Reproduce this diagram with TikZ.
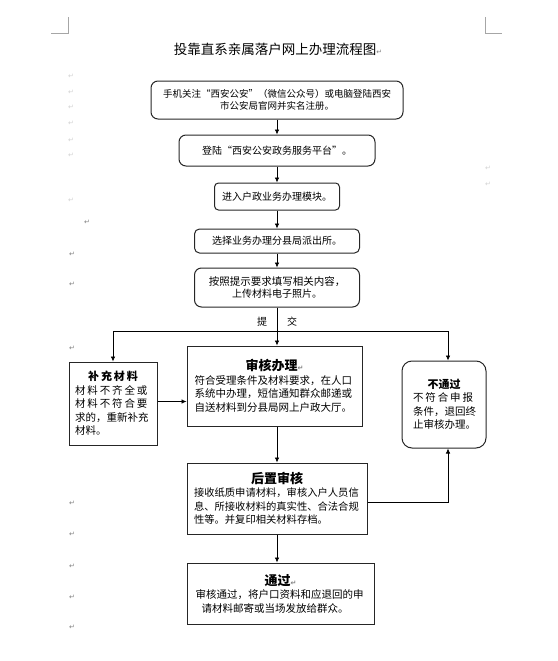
\documentclass[tikz,border=0pt]{standalone}
\usepackage{fontspec}
\setmainfont{Noto Sans CJK SC}
\newfontfamily\cjkspread[LetterSpace=18]{Noto Sans CJK SC}
\newfontfamily\markfont{DejaVu Sans}
\usetikzlibrary{arrows.meta}
\newcommand{\pmark}{{\markfont\color{gray}\fontsize{7}{7}\selectfont ↵}}
\newcommand{\boxtitle}[2]{\makebox[\hsize]{\fontsize{#1}{14}\selectfont\bfseries #2}}
\begin{document}
\begin{tikzpicture}[x=1pt,y=-1pt,
  box/.style={draw=black!85, line width=1pt, inner sep=0pt, align=center,
    font=\fontsize{10}{12}\selectfont},
  rbox/.style={box, rounded corners=7pt},
  tbox/.style={box, align=left, font=\fontsize{10.5}{13.5}\selectfont},
  arr/.style={-{Latex[length=5pt,width=4.5pt]}, line width=0.7pt},
  pm/.style={font=\markfont\fontsize{7}{7}\selectfont, text=gray, inner sep=0pt}]
\useasboundingbox (0,0) rectangle (557,661);

% Word page corners
\draw[gray!70] (51,33) -- (68,33) -- (68,17);
\draw[gray!70] (485,17) -- (485,33) -- (502,33);

\node at (278,49) (0) {\fontsize{13.5}{15}\selectfont 投靠直系亲属落户网上办理流程图\pmark};

\node[rbox, font=\fontsize{9.5}{11.5}\selectfont, minimum width=252, minimum height=38] at (277,100) (1)
  {手机关注“西安公安”（微信公众号）或电脑登陆西安\\市公安局官网并实名注册。};
\node[rbox, minimum width=196, minimum height=31] at (277,150.5) (2) {登陆“西安公安政务服务平台”。};
\node[rbox, rounded corners=4pt, minimum width=125, minimum height=27] at (277,196.5) (3) {进入户政业务办理模块。};
\node[rbox, rounded corners=5pt, minimum width=165, minimum height=24] at (277,241) (4) {选择业务办理分县局派出所。};
\node[rbox, minimum width=165, minimum height=39] at (277,287.5) (5)
  {\fontsize{10.5}{12}\selectfont 按照提示要求填写相关内容，\\上传材料电子照片。};

\coordinate (j) at (277,331);
\node[font=\fontsize{10}{12}\selectfont] at (277,322) (51) {提\hspace{20pt}交};

\node[tbox, text width=76, minimum width=88, minimum height=83] at (113,403.5) (61)
  {\boxtitle{11}{\cjkspread 补充材料}\\
   {\cjkspread 材料不齐全或}\\
   {\cjkspread 材料不符合要}\\
   求的，重新补充\\
   材料。\par\vspace*{10pt}};
\node[tbox, text width=160, minimum width=175, minimum height=80] at (274.5,386) (62)
  {\boxtitle{13}{审核办理\pmark}\\
   符合受理条件及材料要求，在人口\\
   系统中办理，短信通知群众邮递或\\
   自送材料到分县局网上户政大厅。\par\vspace*{14pt}};
\node[tbox, rounded corners=10pt, text width=62, minimum width=84, minimum height=87] at (444,404.5) (63)
  {\boxtitle{11}{不通过}\\
   {\cjkspread 不符合申报}\\
   条件，退回终\\
   止审核办理。\par\vspace*{14pt}};
\node[tbox, font=\fontsize{10.3}{13.5}\selectfont, text width=166, minimum width=180, minimum height=71] at (277,498.5) (7)
  {\boxtitle{13}{后置审核}\\
   接收纸质申请材料，审核入户人员信\\
   息、所接收材料的真实性、合法合规\\
   性等。并复印相关材料存档。};
\node[tbox, font=\fontsize{10.5}{13.5}\selectfont, text width=170, minimum width=187, minimum height=61] at (280.5,593.5) (8)
  {\boxtitle{13}{通过\pmark}\\
   审核通过，将户口资料和应退回的申\\
   \hspace*{6pt}请材料邮寄或当场发放给群众。\par\vspace*{10pt}};

\draw[arr] (1) -- (2);
\draw[arr] (2) -- (3);
\draw[arr] (3) -- (4);
\draw[arr] (4) -- (5);
\draw[line width=0.7pt] (5) -- (j);
\draw[arr] (j) -- (j |- 62.north);
\draw[arr] (j) -| (61.north);
\draw[arr] (j) -| ([xshift=4]63.north);
\draw[arr] ([yshift=2]61.east) -- ([yshift=2]61.east -| 62.west);
\draw[arr] (j |- 62.south) -- (j |- 7.north);
\draw[arr] ([yshift=-4]7.east) -| ([xshift=4]63.south);
\draw[arr] (j |- 7.south) -- (j |- 8.north);

% paragraph marks in the margin
\foreach \y in {222} \node[pm] at (87,\y) (m\y) {↵};
\foreach \y in {254,284,348,503,534,566,597,627} \node[pm] at (72,\y) (m\y) {↵};
\foreach \y in {76,92,107,123,140,155,200} \node[pm, text=gray!35] at (71,\y) (n\y) {↵};
\foreach \y in {168,184} \node[pm, text=gray!35] at (488,\y) (r\y) {↵};
\end{tikzpicture}
\end{document}
